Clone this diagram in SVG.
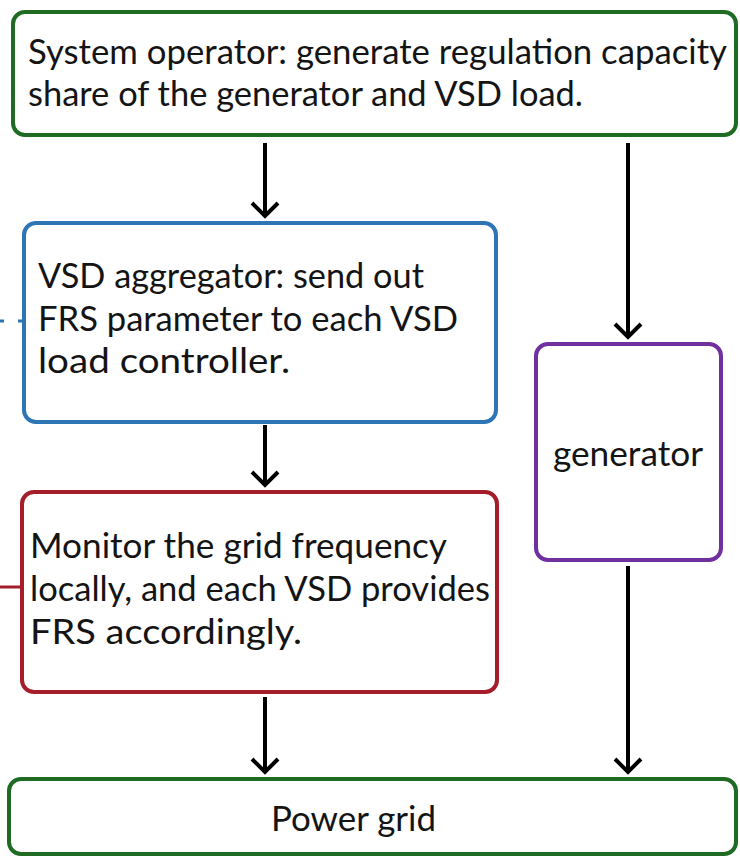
<svg xmlns="http://www.w3.org/2000/svg" width="740" height="857" viewBox="0 0 740 857">
  <style>
    .box { fill: #ffffff; stroke-width: 4; }
    .t { font-family: Lato, "Open Sans", "Liberation Sans", sans-serif; font-size: 34px; fill: #141414; }
    .c { stroke: #000; stroke-width: 4; fill: none; }
  </style>
  <defs>
    <marker id="ah" viewBox="0 0 30 30" refX="18" refY="15" markerWidth="30" markerHeight="30" markerUnits="userSpaceOnUse" orient="auto">
      <path d="M5,2 L18,15 L5,28" fill="none" stroke="#000" stroke-width="4"/>
    </marker>
  </defs>
  <rect width="740" height="857" fill="#ffffff"/>

  <g id="connectors">
    <line class="c" x1="265" y1="143" x2="265" y2="216" marker-end="url(#ah)"/>
    <line class="c" x1="628" y1="143" x2="628" y2="337" marker-end="url(#ah)"/>
    <line class="c" x1="265" y1="425" x2="265" y2="485" marker-end="url(#ah)"/>
    <line class="c" x1="265" y1="697" x2="265" y2="772" marker-end="url(#ah)"/>
    <line class="c" x1="628" y1="566" x2="628" y2="772" marker-end="url(#ah)"/>
    <line x1="0" y1="321" x2="24" y2="321" stroke="#2e75b6" stroke-width="3" stroke-dasharray="4 14"/>
    <line x1="0" y1="587" x2="22" y2="587" stroke="#a31d2b" stroke-width="3"/>
  </g>

  <g id="system-operator">
    <rect class="box" x="13" y="12" width="723" height="123" rx="12" stroke="#1f6b23"/>
    <text class="t" x="28" y="64" textLength="699" lengthAdjust="spacingAndGlyphs">System operator: generate regulation capacity</text>
    <text class="t" x="28" y="106" textLength="555" lengthAdjust="spacingAndGlyphs">share of the generator and VSD load.</text>
  </g>

  <g id="vsd-aggregator">
    <rect class="box" x="24" y="223" width="472" height="199" rx="12" stroke="#2e75b6"/>
    <text class="t" x="38" y="288" textLength="386" lengthAdjust="spacingAndGlyphs">VSD aggregator: send out</text>
    <text class="t" x="38" y="331" textLength="420" lengthAdjust="spacingAndGlyphs">FRS parameter to each VSD</text>
    <text class="t" x="38" y="373" textLength="252" lengthAdjust="spacingAndGlyphs">load controller.</text>
  </g>

  <g id="monitor">
    <rect class="box" x="22" y="492" width="475" height="200" rx="12" stroke="#a31d2b"/>
    <text class="t" x="30" y="558" textLength="417" lengthAdjust="spacingAndGlyphs">Monitor the grid frequency</text>
    <text class="t" x="30" y="601" textLength="460" lengthAdjust="spacingAndGlyphs">locally, and each VSD provides</text>
    <text class="t" x="30" y="644" textLength="272" lengthAdjust="spacingAndGlyphs">FRS accordingly.</text>
  </g>

  <g id="generator">
    <rect class="box" x="536" y="344" width="185" height="216" rx="12" stroke="#7030a0"/>
    <text class="t" x="553" y="466" textLength="150" lengthAdjust="spacingAndGlyphs">generator</text>
  </g>

  <g id="power-grid">
    <rect class="box" x="9" y="779" width="727" height="75" rx="12" stroke="#1f6b23"/>
    <text class="t" x="271" y="831" textLength="165" lengthAdjust="spacingAndGlyphs">Power grid</text>
  </g>
</svg>
